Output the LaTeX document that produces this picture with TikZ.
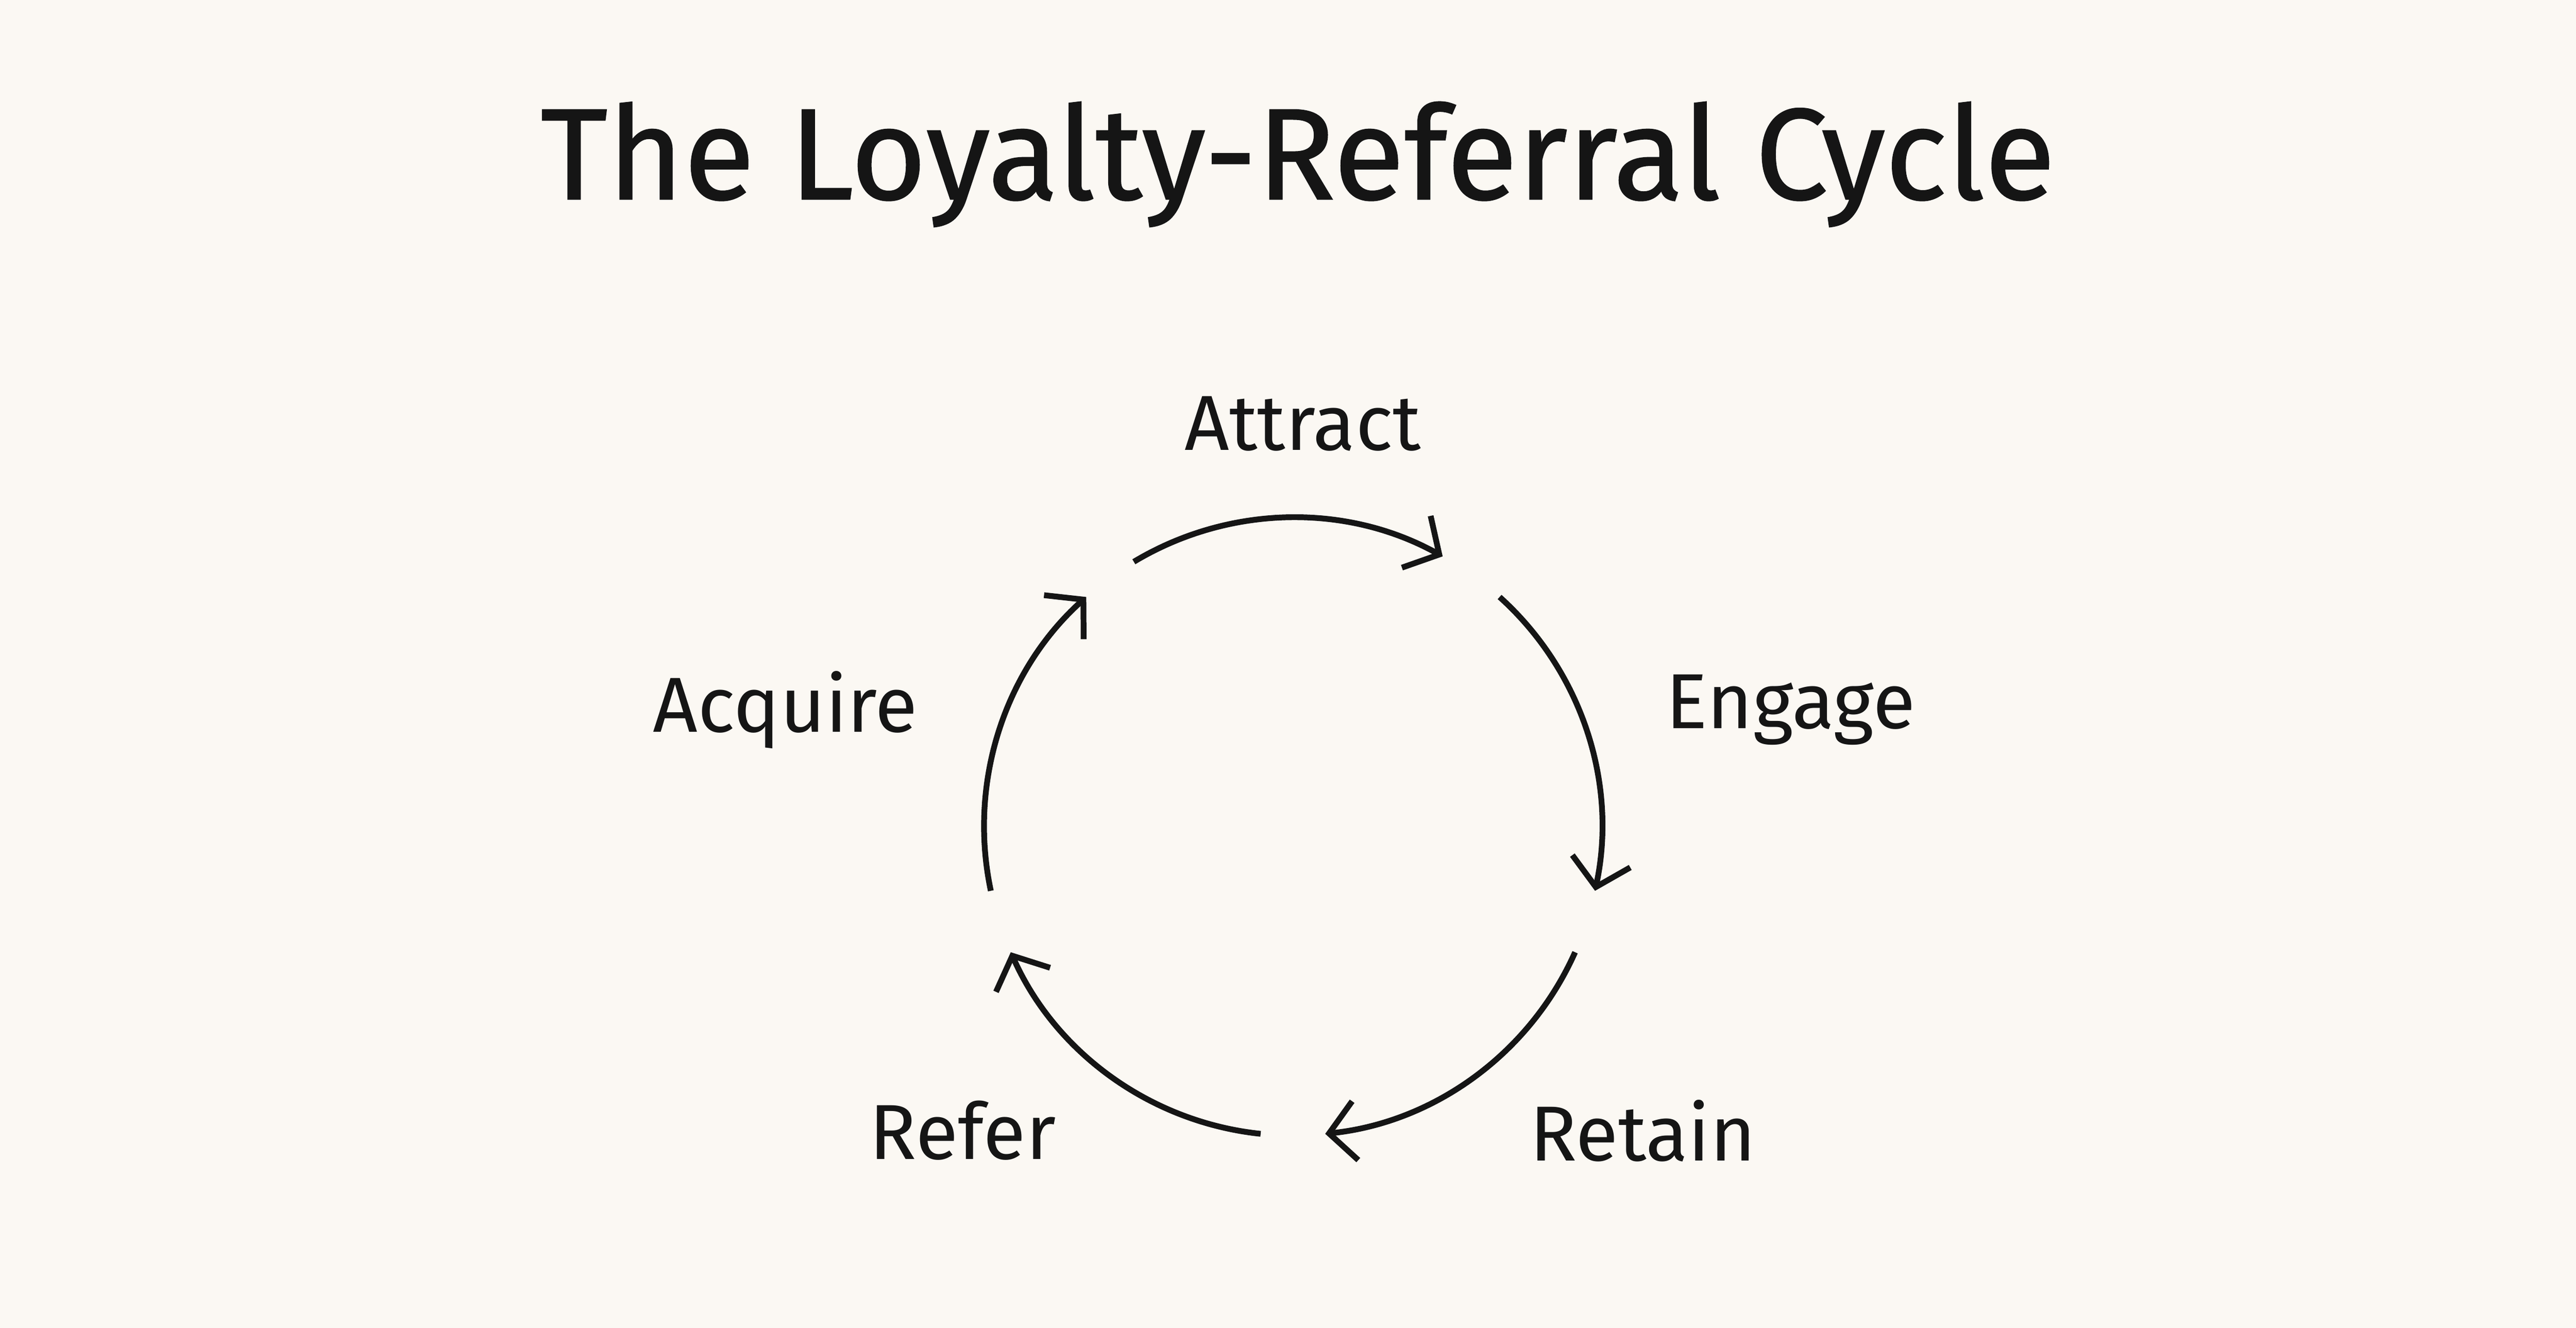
\documentclass[tikz,border=0pt]{standalone}
\usepackage{fontspec}
\setmainfont{Fira Sans}
\usetikzlibrary{arrows.meta,calc}
\definecolor{bg}{HTML}{FBF8F3}
\definecolor{ink}{HTML}{151515}
\begin{document}
\begin{tikzpicture}[x=0.01cm,y=-0.01cm,
  lab/.style={font=\fontsize{13.5}{16}\selectfont, text=ink},
  arc/.style={draw=ink, line width=1pt, -{Straight Barb[length=1.6mm,width=3.6mm,line width=1pt]}}]
\fill[bg] (0,0) rectangle (1568,808);
\useasboundingbox (0,0) rectangle (1568,808);
\node[font=\fontsize{22.5}{27}\selectfont\addfontfeatures{FakeBold=0.8}, text=ink] (title) at (790,100) {The Loyalty-Referral Cycle};
\coordinate (c) at (787,503);
\node[lab] (attract) at (793,258) {Attract};
\node[lab] (engage) at (1090,432) {Engage};
\node[lab] (retain) at (1000,688) {Retain};
\node[lab] (refer) at (586,688) {Refer};
\node[lab] (acquire) at (478,432) {Acquire};
\foreach \s in {121,48,-24,-96,-168}{
  \draw[arc] ($(c)+(\s:188 and -188)$) arc[start angle=\s, end angle=\s-60, x radius=188, y radius=-188];
}
\end{tikzpicture}
\end{document}
